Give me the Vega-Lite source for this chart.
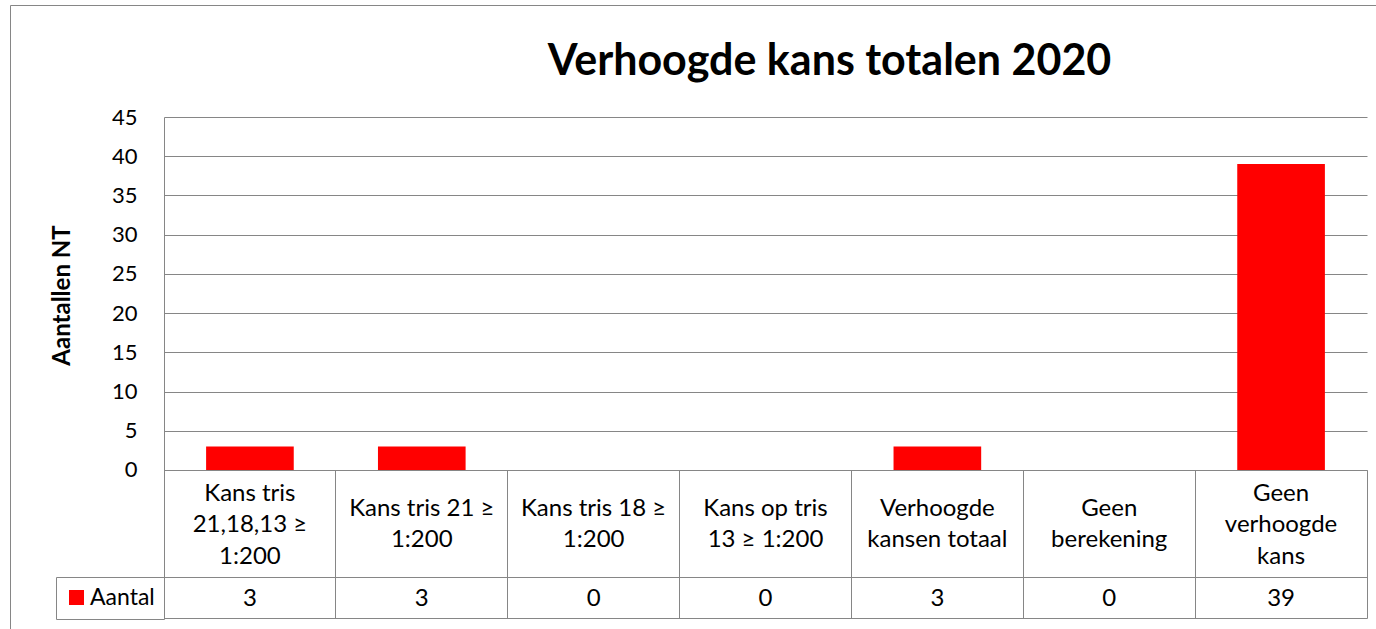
{
  "$schema": "https://vega.github.io/schema/vega-lite/v6.json",
  "width": 1203,
  "height": 501,
  "autosize": {"type": "none"},
  "padding": {"left": 164, "top": 117, "right": 9, "bottom": 11},
  "background": "white",
  "config": {"view": {"stroke": null}, "font": "Lato"},
  "title": {
    "text": "Verhoogde kans totalen 2020",
    "font": "Lato",
    "fontSize": 43,
    "fontWeight": "bold",
    "color": "black",
    "anchor": "middle",
    "frame": "group",
    "baseline": "alphabetic",
    "dx": 64,
    "offset": -113
  },
  "data": {
    "values": [
      {"categorie": "Kans tris\n21,18,13 ≥\n1:200", "aantal": 3, "reeks": "Aantal"},
      {"categorie": "Kans tris 21 ≥\n1:200", "aantal": 3, "reeks": "Aantal"},
      {"categorie": "Kans tris 18 ≥\n1:200", "aantal": 0, "reeks": "Aantal"},
      {"categorie": "Kans op tris\n13 ≥ 1:200", "aantal": 0, "reeks": "Aantal"},
      {"categorie": "Verhoogde\nkansen totaal", "aantal": 3, "reeks": "Aantal"},
      {"categorie": "Geen\nberekening", "aantal": 0, "reeks": "Aantal"},
      {"categorie": "Geen\nverhoogde\nkans", "aantal": 39, "reeks": "Aantal"}
    ]
  },
  "encoding": {
    "x": {
      "field": "categorie",
      "type": "nominal",
      "sort": null,
      "scale": {"paddingInner": 0, "paddingOuter": 0},
      "axis": {
        "orient": "bottom",
        "offset": -148,
        "bandPosition": 1,
        "tickExtra": true,
        "tickSize": 148,
        "tickColor": "#868686",
        "tickWidth": 1,
        "domainColor": "#868686",
        "domainWidth": 1,
        "labels": false,
        "title": null,
        "grid": false
      }
    }
  },
  "layer": [
    {
      "mark": {"type": "bar", "width": {"band": 0.51}},
      "encoding": {
        "y": {
          "field": "aantal",
          "type": "quantitative",
          "scale": {"domain": [-18.87, 45], "nice": false, "zero": false},
          "axis": {
            "title": "Aantallen NT",
            "titleFont": "Lato",
            "titleFontSize": 24,
            "titleFontWeight": "bold",
            "titleColor": "black",
            "titleX": -102,
            "titleY": 178,
            "titleAngle": -90,
            "titleAlign": "center",
            "titleBaseline": "middle",
            "values": [0, 5, 10, 15, 20, 25, 30, 35, 40, 45, -13.64, -18.87],
            "grid": true,
            "gridColor": "#868686",
            "gridWidth": 1,
            "domainColor": "#868686",
            "domainWidth": 1,
            "ticks": false,
            "labelExpr": "datum.value >= 0 ? datum.label : ''",
            "labelFont": "Lato",
            "labelFontSize": 22,
            "labelColor": "black",
            "labelPadding": 27,
            "labelOverlap": false,
            "labelFlush": false
          }
        },
        "color": {
          "field": "reeks",
          "type": "nominal",
          "scale": {"range": ["#ff0000"]},
          "legend": {
            "orient": "none",
            "legendX": -108,
            "legendY": 460,
            "title": null,
            "symbolType": "square",
            "symbolSize": 225,
            "symbolStrokeWidth": 0,
            "labelFont": "Lato",
            "labelFontSize": 23,
            "labelColor": "black",
            "labelOffset": 2,
            "padding": 9,
            "strokeColor": "#868686"
          }
        }
      }
    },
    {
      "transform": [{"filter": "split(datum.categorie, '\\n').length == 3"}],
      "mark": {"type": "text", "lineBreak": "\n", "font": "Lato", "fontSize": 24, "lineHeight": 31.5, "baseline": "middle", "align": "center", "color": "black"},
      "encoding": {
        "y": {"datum": -3.06},
        "text": {"field": "categorie"}
      }
    },
    {
      "transform": [{"filter": "split(datum.categorie, '\\n').length == 2"}],
      "mark": {"type": "text", "lineBreak": "\n", "font": "Lato", "fontSize": 24, "lineHeight": 31.5, "baseline": "middle", "align": "center", "color": "black"},
      "encoding": {
        "y": {"datum": -4.97},
        "text": {"field": "categorie"}
      }
    },
    {
      "mark": {"type": "text", "font": "Lato", "fontSize": 24, "baseline": "middle", "align": "center", "color": "black"},
      "encoding": {
        "y": {"datum": -16.4},
        "text": {"field": "aantal"},
        "opacity": {
          "field": "aantal",
          "type": "quantitative",
          "scale": {"range": [1, 1]},
          "legend": {
            "orient": "none",
            "legendX": -154,
            "legendY": -112,
            "title": null,
            "padding": 720,
            "strokeColor": "#868686",
            "symbolOpacity": 0,
            "labelExpr": "''",
            "values": [0]
          }
        }
      }
    }
  ]
}
